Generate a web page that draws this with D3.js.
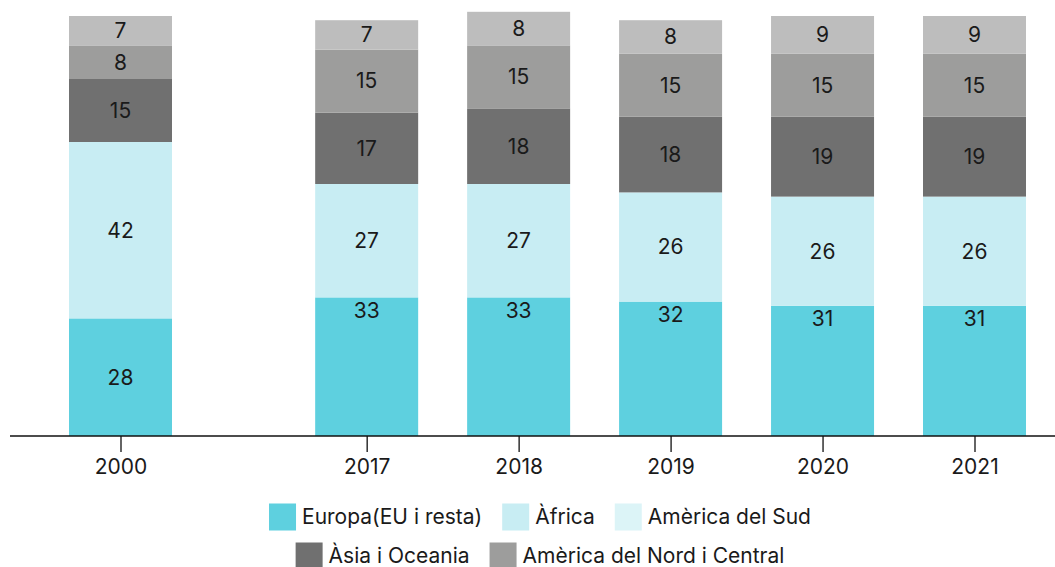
<!DOCTYPE html>
<html>
<head>
<meta charset="utf-8">
<script src="https://cdn.jsdelivr.net/npm/d3@7"></script>
<style>
  body { margin: 0; background: #fff; }
  text { font-family: Inter, Roboto, sans-serif; }
</style>
</head>
<body>
<div id="chart"></div>
<script>
// Data
var years = ["2000", "2017", "2018", "2019", "2020", "2021"];
var europa = [28, 33, 33, 32, 31, 31];
var africa = [42, 27, 27, 26, 26, 26];
var asia = [15, 17, 18, 18, 19, 19];
var americaNord = [8, 15, 15, 15, 15, 15];
var altres = [7, 7, 8, 8, 9, 9];

var seriesNames = ["Europa(EU i resta)", "Àfrica", "Àsia i Oceania", "Amèrica del Nord i Central", "Altres"];
var seriesValues = [europa, africa, asia, americaNord, altres];
var seriesColors = ["#5ed0df", "#c8edf3", "#707070", "#9d9d9c", "#bdbdbd"];

var legendRows = [
    [["Europa(EU i resta)", "#5ed0df"], ["Àfrica", "#c8edf3"], ["Amèrica del Sud", "#dcf4f7"]],
    [["Àsia i Oceania", "#707070"], ["Amèrica del Nord i Central", "#9d9d9c"]]
];

const width = 1055, height = 567;
const baseline = 436;
const barWidth = 103;
const fontSize = 21;

var svg = d3.select("#chart").append("svg")
    .attr("width", width)
    .attr("height", height);

// slot position: 2000 sits apart from the 2017-2021 group
var slot = d3.scaleLinear().domain([0, 5.62]).range([120.5, 974.5]);
var x = d3.scaleOrdinal()
    .domain(years)
    .range(years.map(function (d, i) { return slot(i === 0 ? 0 : i + 0.62); }));

var y = d3.scaleLinear().domain([0, 100]).range([baseline, 16]);

// build table for stacking
var table = years.map(function (yr, i) {
    var row = { year: yr };
    seriesNames.forEach(function (n, j) { row[n] = seriesValues[j][i]; });
    return row;
});
var stacked = d3.stack().keys(seriesNames)(table);

var layer = svg.selectAll(".layer")
    .data(stacked)
    .enter().append("g")
    .attr("fill", function (d, i) { return seriesColors[i]; });

layer.selectAll("rect")
    .data(function (d) { return d; })
    .enter().append("rect")
    .attr("x", function (d) { return x(d.data.year) - barWidth / 2; })
    .attr("width", barWidth)
    .attr("y", function (d) { return y(d[1]); })
    .attr("height", function (d) { return y(d[0]) - y(d[1]); });

// segment labels
stacked.forEach(function (s, si) {
    svg.selectAll(".lbl" + si)
        .data(s)
        .enter().append("text")
        .attr("x", function (d) { return x(d.data.year); })
        .attr("y", function (d, i) {
            // europa labels sit near the top of the segment after 2000
            if (si === 0 && i > 0) return y(d[1]) + 13;
            return (y(d[0]) + y(d[1])) / 2;
        })
        .attr("dy", "0.35em")
        .attr("text-anchor", "middle")
        .attr("font-size", fontSize)
        .attr("fill", "#1a1a1a")
        .text(function (d) { return d[1] - d[0]; });
});

// axis
svg.append("line")
    .attr("x1", 10).attr("x2", width)
    .attr("y1", baseline).attr("y2", baseline)
    .attr("stroke", "#111")
    .attr("stroke-width", 1.5);

var axis = svg.append("g")
    .attr("transform", "translate(0," + baseline + ")")
    .call(d3.axisBottom(x).tickSize(16).tickPadding(7));
axis.select(".domain").remove();
axis.selectAll(".tick line").attr("stroke", "#111").attr("stroke-width", 1.3);
axis.selectAll(".tick text")
    .attr("font-family", "Inter, Roboto, sans-serif")
    .attr("font-size", fontSize)
    .attr("fill", "#1a1a1a");

// legend
const sw = 27, gapText = 6, gapItem = 20, legendCx = 540;
var rowY = [517, 556];
legendRows.forEach(function (row, ri) {
    var g = svg.append("g");
    var cursor = 0;
    row.forEach(function (item) {
        g.append("rect")
            .attr("x", cursor).attr("y", rowY[ri] - sw / 2)
            .attr("width", sw).attr("height", sw)
            .attr("fill", item[1]);
        var t = g.append("text")
            .attr("x", cursor + sw + gapText)
            .attr("y", rowY[ri])
            .attr("dy", "0.35em")
            .attr("font-size", fontSize)
            .attr("fill", "#1a1a1a")
            .text(item[0]);
        cursor += sw + gapText + t.node().getComputedTextLength() + gapItem;
    });
    var total = cursor - gapItem;
    g.attr("transform", "translate(" + (legendCx - total / 2) + ",0)");
});
</script>
</body>
</html>
